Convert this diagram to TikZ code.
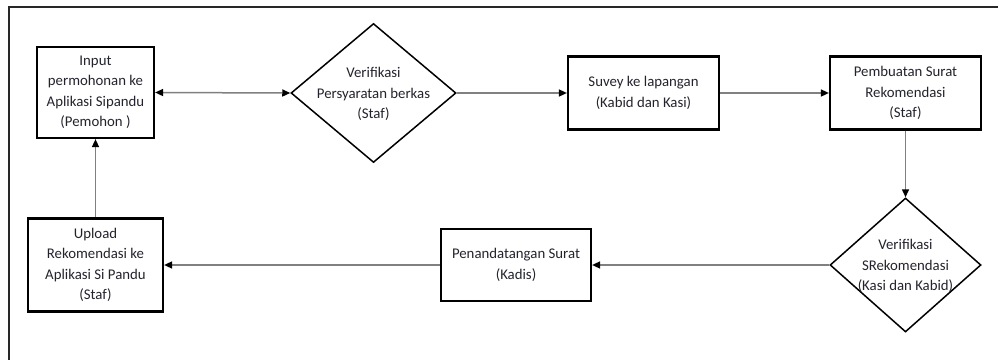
\documentclass[tikz,border=0pt]{standalone}
\usepackage{fontspec}
\setmainfont{Carlito}
\usetikzlibrary{shapes.geometric,arrows.meta}
\definecolor{txtc}{RGB}{35,35,45}
\definecolor{linec}{RGB}{128,128,128}
\definecolor{framec}{RGB}{40,40,40}
\tikzset{
  x=1pt,y=1pt,
  boxnode/.style={draw=black, line width=2.2pt, rectangle, inner sep=0pt, align=center,
     text=txtc, font=\fontsize{14.8}{20.5}\selectfont},
  dianode/.style={draw=black, line width=1.5pt, diamond, inner sep=0pt},
  txtnode/.style={align=center, text=txtc, inner sep=0pt, font=\fontsize{14.8}{20.5}\selectfont},
  conn/.style={draw=linec, line width=1.5pt, -{Triangle[length=8pt,width=7pt,fill=black,color=black]}},
  conn2/.style={draw=linec, line width=1.5pt, {Triangle[length=8pt,width=7pt,fill=black,color=black]}-{Triangle[length=8pt,width=7pt,fill=black,color=black]}},
  framestyle/.style={draw=framec, line width=1.3pt}
}
\begin{document}
\begin{tikzpicture}
\useasboundingbox (0,0) rectangle (998,360);
\coordinate (fa) at (9,0);
\coordinate (fb) at (9,353);
\coordinate (fc) at (998,353);
\draw[framestyle] (fa) -- (fb) -- (fc);

\node[boxnode, minimum width=117, minimum height=91] (b1) at (95.5,267.5)
  {Input\\permohonan ke\\Aplikasi Sipandu\\(Pemohon )};
\node[dianode, minimum width=165, minimum height=139] (d1) at (373.5,267) {};
\node[txtnode] (t1) at (373.5,266) {Verifikasi\\Persyaratan berkas\\(Staf)};
\node[boxnode, minimum width=151, minimum height=73] (b2) at (643.5,267)
  {Suvey ke lapangan\\(Kabid dan Kasi)};
\node[boxnode, minimum width=151, minimum height=73] (b3) at (905.5,267)
  {Pembuatan Surat\\Rekomendasi\\(Staf)};
\node[dianode, minimum width=151, minimum height=134] (d2) at (905.5,95) {};
\node[txtnode] (t2) at (905.5,94) {Verifikasi\\SRekomendasi\\(Kasi dan Kabid)};
\node[boxnode, minimum width=150, minimum height=72] (b4) at (516,95)
  {Penandatangan Surat\\(Kadis)};
\node[boxnode, minimum width=135, minimum height=93] (b5) at (95.5,95)
  {Upload\\Rekomendasi ke\\Aplikasi Si Pandu\\(Staf)};

\draw[conn2] (b1.east) -- (d1.west);
\draw[conn] (d1.east) -- (b2.west);
\draw[conn] (b2.east) -- (b3.west);
\draw[conn] (b3.south) -- (d2.north);
\draw[conn] (d2.west) -- (b4.east);
\draw[conn] (b4.west) -- (b5.east);
\draw[conn] (b5.north) -- (b1.south);
\end{tikzpicture}
\end{document}
